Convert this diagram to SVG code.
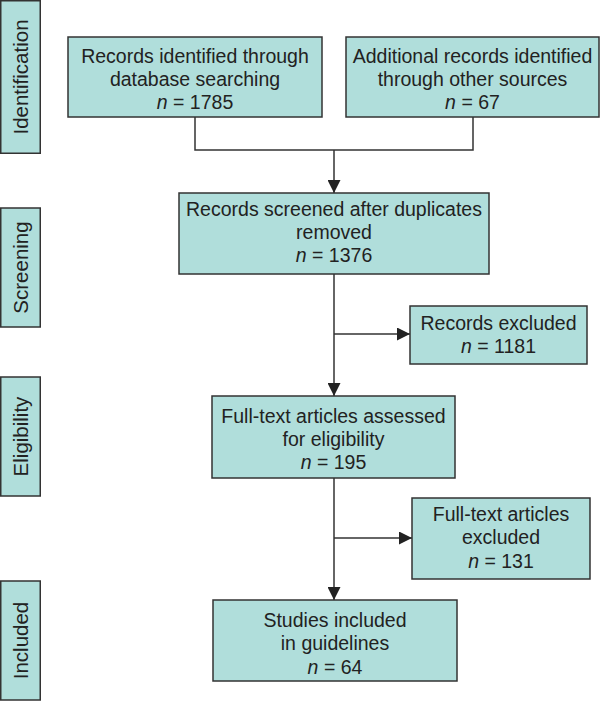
<svg xmlns="http://www.w3.org/2000/svg" width="600" height="701" viewBox="0 0 600 701">
<style>
.box{fill:#b0dedb;stroke:#333;stroke-width:1.5}
.t{font-family:"Liberation Sans",Arial,sans-serif;font-size:19.5px;fill:#222;text-anchor:middle}
.side{font-family:"Liberation Sans",Arial,sans-serif;font-size:20.5px;fill:#222;text-anchor:middle}
.i{font-style:italic}
.c{fill:none;stroke:#333;stroke-width:1.5}
</style>
<defs>
<marker id="ah" markerUnits="userSpaceOnUse" markerWidth="13" markerHeight="13" refX="13" refY="6.5" orient="auto">
<path d="M0,0 L13,6.5 L0,13 z" fill="#222"/>
</marker>
</defs>
<g id="side-identification"><rect class="box" x="0.75" y="0.75" width="39.5" height="152.5"/><text class="side" transform="translate(28,77) rotate(-90)">Identification</text></g>
<g id="side-screening"><rect class="box" x="0.75" y="208" width="39.5" height="119"/><text class="side" transform="translate(28,267.5) rotate(-90)">Screening</text></g>
<g id="side-eligibility"><rect class="box" x="0.75" y="377" width="39.5" height="119"/><text class="side" transform="translate(28,436.5) rotate(-90)">Eligibility</text></g>
<g id="side-included"><rect class="box" x="0.75" y="581" width="39.5" height="119"/><text class="side" transform="translate(28,640.5) rotate(-90)">Included</text></g>
<g id="connectors">
<path class="c" d="M195,117 V150 H473 V117"/>
<path class="c" d="M334,150 V193" marker-end="url(#ah)"/>
<path class="c" d="M334,274 V396" marker-end="url(#ah)"/>
<path class="c" d="M334,334 H410" marker-end="url(#ah)"/>
<path class="c" d="M334,478 V600" marker-end="url(#ah)"/>
<path class="c" d="M334,538 H412" marker-end="url(#ah)"/>
</g>
<g id="n1"><rect class="box" x="68" y="37" width="254" height="80"/>
<text class="t" x="195" y="63">Records identified through</text>
<text class="t" x="195" y="86">database searching</text>
<text class="t" x="195" y="109"><tspan class="i">n</tspan> = 1785</text></g>
<g id="n2"><rect class="box" x="346" y="37" width="253" height="80"/>
<text class="t" x="472.5" y="63">Additional records identified</text>
<text class="t" x="472.5" y="86">through other sources</text>
<text class="t" x="472.5" y="109"><tspan class="i">n</tspan> = 67</text></g>
<g id="n3"><rect class="box" x="179" y="193" width="310" height="81"/>
<text class="t" x="334" y="216">Records screened after duplicates</text>
<text class="t" x="334" y="239">removed</text>
<text class="t" x="334" y="262"><tspan class="i">n</tspan> = 1376</text></g>
<g id="n4"><rect class="box" x="410" y="306" width="177" height="58"/>
<text class="t" x="498.5" y="330">Records excluded</text>
<text class="t" x="498.5" y="353"><tspan class="i">n</tspan> = 1181</text></g>
<g id="n5"><rect class="box" x="212" y="396" width="243" height="82"/>
<text class="t" x="333.5" y="423">Full-text articles assessed</text>
<text class="t" x="333.5" y="446">for eligibility</text>
<text class="t" x="333.5" y="469"><tspan class="i">n</tspan> = 195</text></g>
<g id="n6"><rect class="box" x="412" y="498" width="178" height="81"/>
<text class="t" x="501" y="521">Full-text articles</text>
<text class="t" x="501" y="544">excluded</text>
<text class="t" x="501" y="568"><tspan class="i">n</tspan> = 131</text></g>
<g id="n7"><rect class="box" x="213" y="600" width="244" height="81"/>
<text class="t" x="335" y="627">Studies included</text>
<text class="t" x="335" y="650">in guidelines</text>
<text class="t" x="335" y="674"><tspan class="i">n</tspan> = 64</text></g>
</svg>
